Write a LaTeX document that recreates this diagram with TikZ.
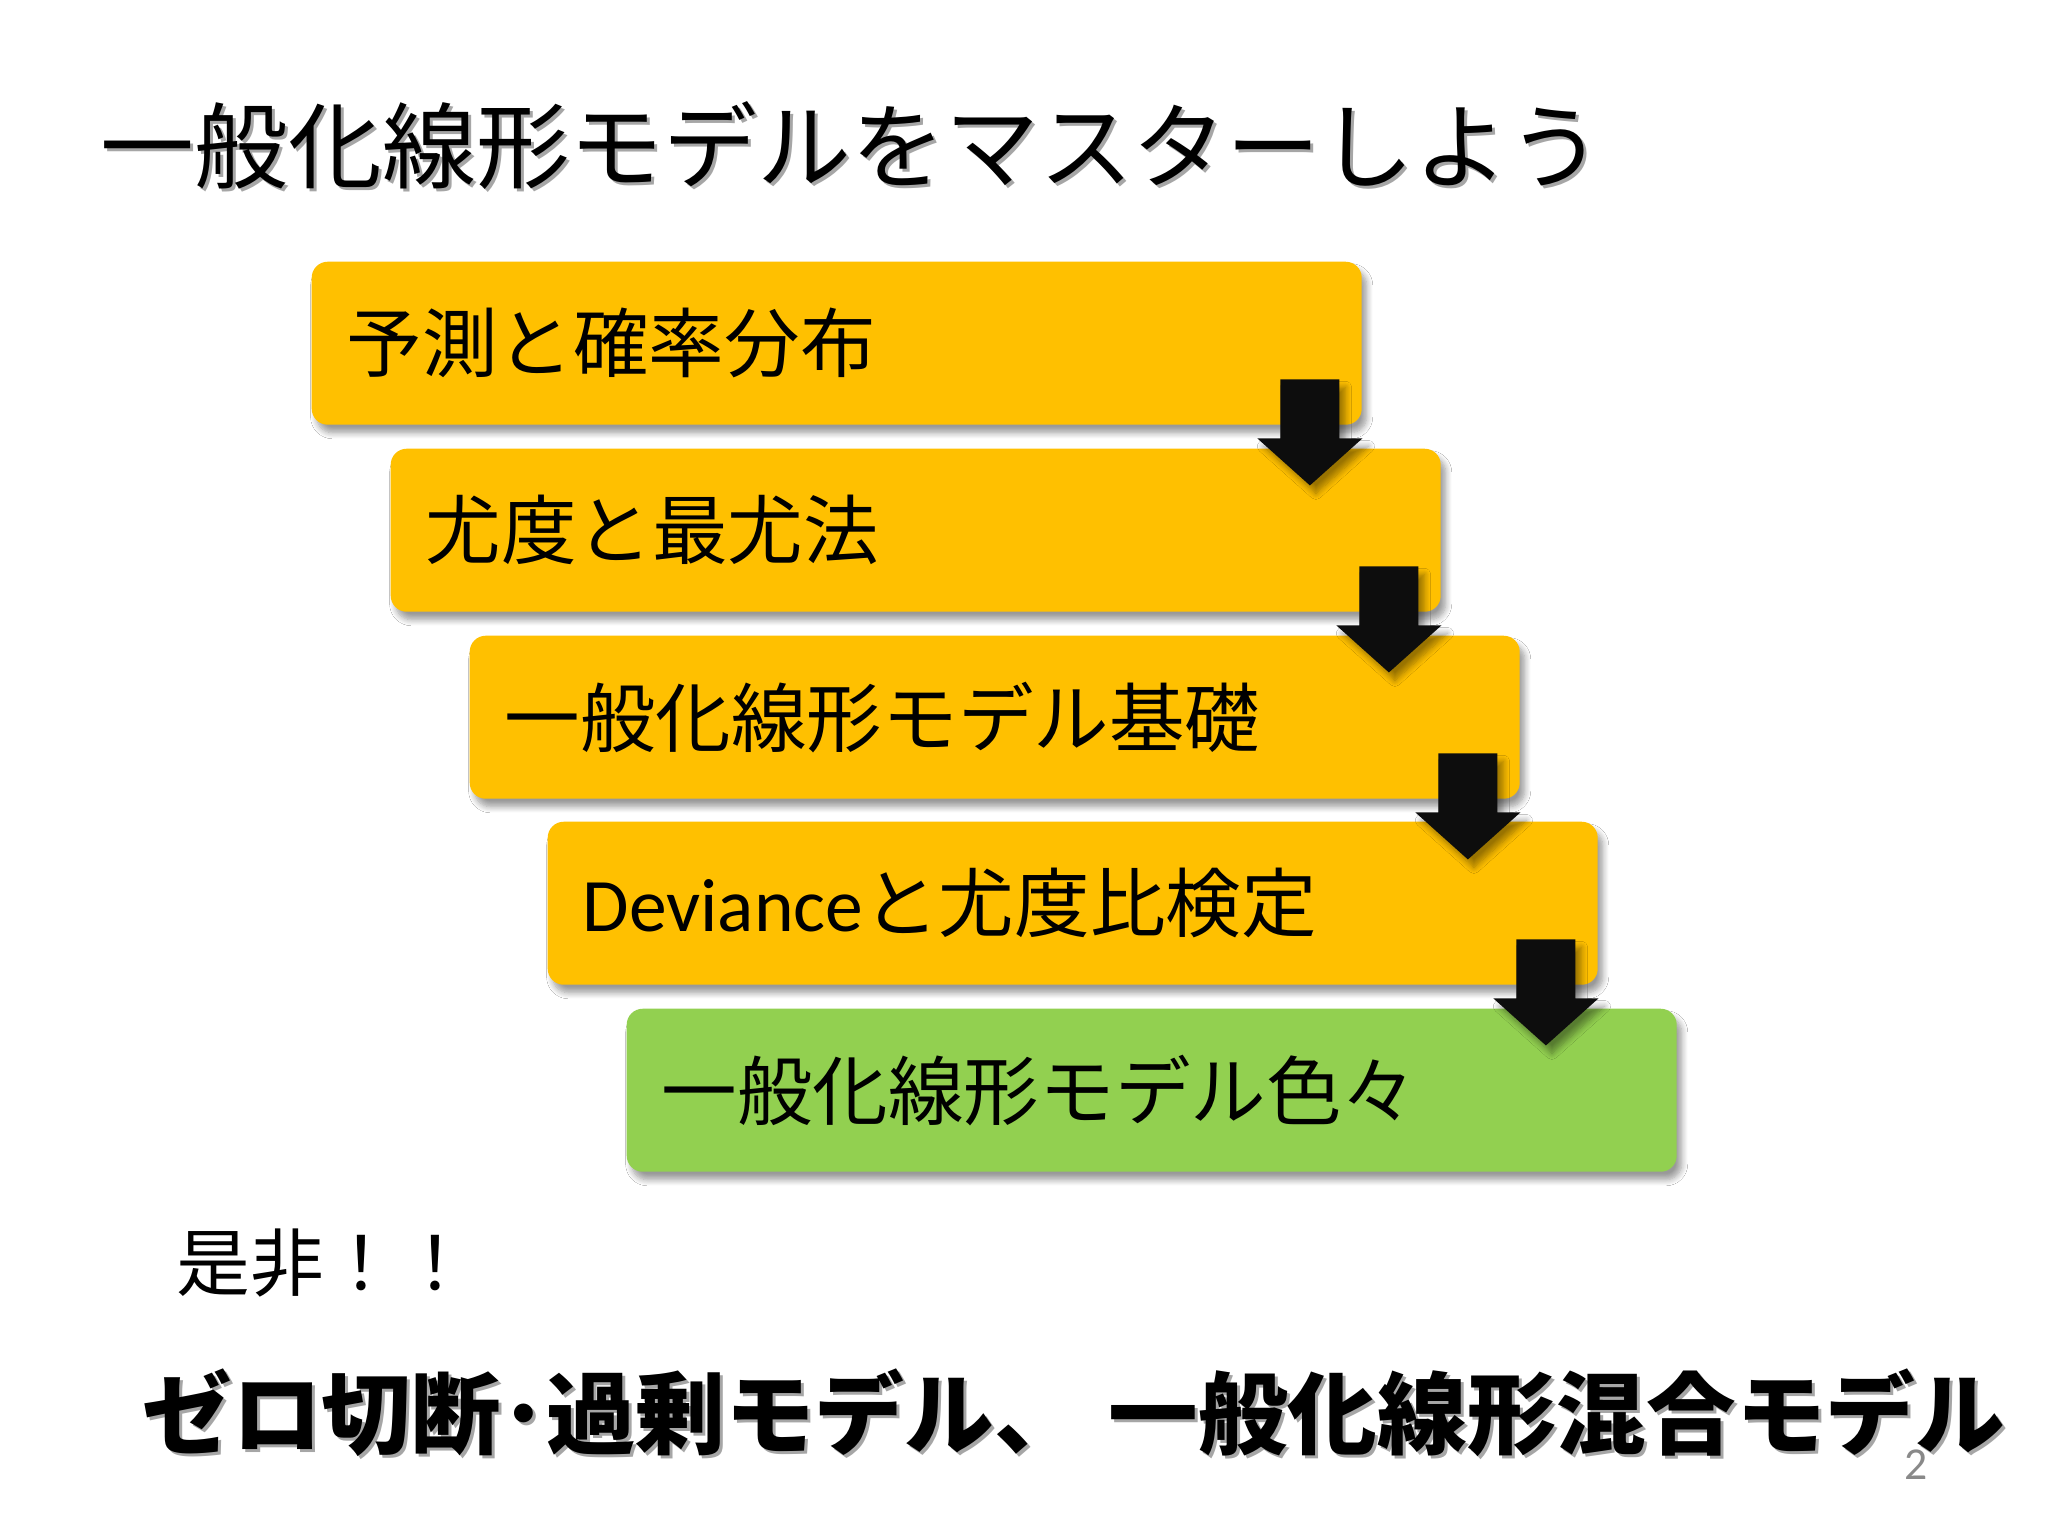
\documentclass[tikz,border=0pt]{standalone}
\usepackage{fontspec}
\newfontfamily\jp{Noto Sans CJK JP}
\newfontfamily\lat{Carlito}
\usetikzlibrary{shadows,shadows.blur,calc}
\definecolor{gold}{HTML}{FFC000}
\definecolor{lgreen}{HTML}{92D050}
\definecolor{arrowblk}{HTML}{0D0D0D}
\definecolor{pagegray}{HTML}{898989}
\definecolor{txtshadow}{HTML}{A6A6A6}
\newcommand\boxtext[1]{\raisebox{0.6mm}{#1}}
\begin{document}
\begin{tikzpicture}[x=0.1mm,y=-0.1mm,
  stepbox/.style={draw=none, fill=gold, rounded corners=1.6mm,
    minimum width=105mm, minimum height=16.3mm, text width=98mm,
    inner xsep=3.5mm, inner ysep=0pt, align=left, anchor=north west,
    font=\jp\fontsize{21.5}{25}\selectfont,
    blur shadow={shadow xshift=0.5mm, shadow yshift=-0.8mm, shadow blur steps=8, shadow opacity=40}},
  lastbox/.style={stepbox, fill=lgreen},
  blockarrow/.style={fill=arrowblk, draw=none,
    blur shadow={shadow xshift=0.6mm, shadow yshift=-0.8mm, shadow blur steps=8, shadow opacity=40}},
  titletext/.style={anchor=west, inner sep=0pt, font=\jp\fontsize{26.7}{31}\selectfont},
  bottomtext/.style={anchor=west, inner sep=0pt, font=\jp\bfseries\fontsize{25.5}{30}\selectfont},
  plaintext/.style={anchor=west, inner sep=0pt, font=\jp\fontsize{21}{25}\selectfont}
]
\useasboundingbox[fill=white] (0,0) rectangle (2048,1536);

% title with shadow
\node[titletext, text=txtshadow] (titleshadow) at (103,149) {一般化線形モデルをマスターしよう};
\node[titletext] (title) at (100,146) {一般化線形モデルをマスターしよう};

% step boxes
\node[stepbox] (b1) at (311,261) {\boxtext{予測と確率分布}};
\node[stepbox] (b2) at (390,448) {\boxtext{尤度と最尤法}};
\node[stepbox] (b3) at (469,635) {\boxtext{一般化線形モデル基礎}};
\node[stepbox] (b4) at (547,821) {\boxtext{{\lat Deviance}と尤度比検定}};
\node[lastbox] (b5) at (626,1008) {\boxtext{一般化線形モデル色々}};

% block arrows between boxes
\foreach \u in {b1,b2,b3,b4}{
  \fill[blockarrow]
    ($(\u.south east)+(-82,-46)$) -- ($(\u.south east)+(-23,-46)$)
    -- ($(\u.south east)+(-23,13)$) -- ($(\u.south east)+(0,13)$)
    -- ($(\u.south east)+(-52.5,60)$) -- ($(\u.south east)+(-105,13)$)
    -- ($(\u.south east)+(-82,13)$) -- cycle;
}

% lower texts
\node[plaintext] (zehi) at (176,1263) {是非！！};
\node[bottomtext, text=txtshadow] (bottom1s) at (145,1416) {ゼロ切断･過剰モデル、};
\node[bottomtext] (bottom1) at (142,1413) {ゼロ切断･過剰モデル、};
\node[bottomtext, text=txtshadow] (bottom2s) at (1111,1416) {一般化線形混合モデル};
\node[bottomtext] (bottom2) at (1108,1413) {一般化線形混合モデル};

% page number
\node[anchor=center, inner sep=0pt, text=pagegray, font=\lat\fontsize{13}{15}\selectfont] (pagenum) at (1916,1465) {2};
\end{tikzpicture}
\end{document}
